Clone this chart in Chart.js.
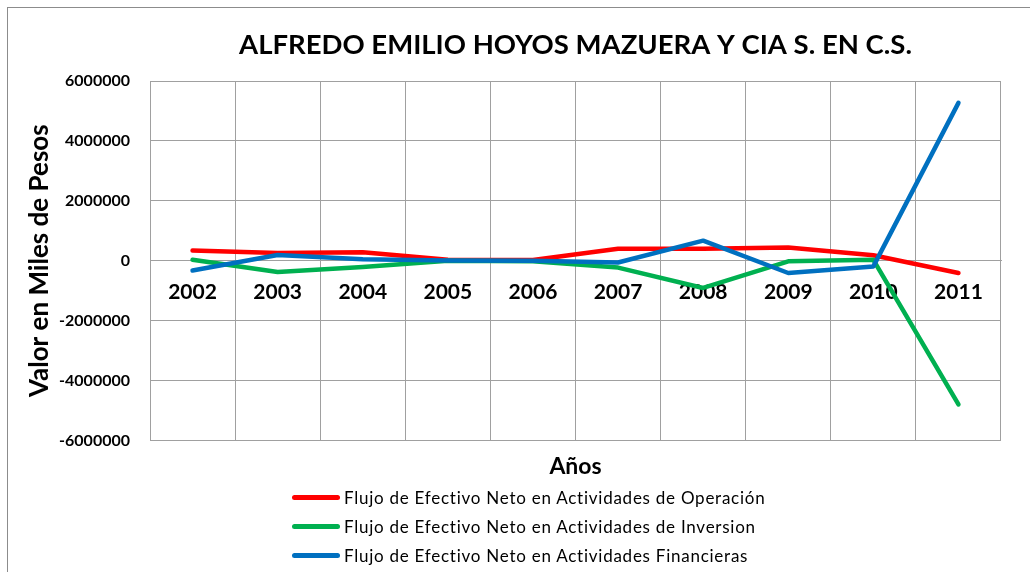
<!DOCTYPE html>
<html>
<head>
<meta charset="utf-8">
<script src="https://cdn.jsdelivr.net/npm/chart.js@4/dist/chart.umd.min.js"></script>
<style>
  html, body { margin: 0; padding: 0; background: #fff; overflow: hidden; }
  #wrap { position: relative; width: 1030px; height: 572px; }
  #frame { position: absolute; left: 7px; top: 7px; width: 1100px; height: 700px;
    border-left: 1px solid #8c8c8c; border-top: 1px solid #8c8c8c; }
  #legend { position: absolute; left: 292px; top: 483px; font-family: Lato, sans-serif;
    font-size: 17px; letter-spacing: 0.75px; color: #000; }
  .row { height: 29px; display: flex; align-items: center; }
  .swatch { width: 48px; height: 5px; border-radius: 3px; margin-right: 4px; }
</style>
</head>
<body>
<div id="wrap">
  <div id="frame"></div>
  <canvas id="chart" width="1030" height="572"></canvas>
  <div id="legend"></div>
</div>
<script>
//------------------Data------------------
const years = ['2002', '2003', '2004', '2005', '2006', '2007', '2008', '2009', '2010', '2011'];
const operacion = [340000, 260000, 280000, 30000, 20000, 400000, 400000, 440000, 180000, -410000];
const inversion = [30000, -380000, -210000, 0, -20000, -230000, -910000, -20000, 30000, -4800000];
const financieras = [-330000, 190000, 50000, 10000, 0, -60000, 670000, -410000, -190000, 5270000];
const seriesNames = [
  'Flujo de Efectivo Neto en Actividades de Operación',
  'Flujo de Efectivo Neto en Actividades de Inversion',
  'Flujo de Efectivo Neto en Actividades Financieras',
];
const seriesColors = ['#ff0000', '#00b050', '#0070c0'];

const gridColor = '#a0a0a0';
const font = 'Lato, sans-serif';

const datasets = [operacion, inversion, financieras].map((values, i) => ({
  label: seriesNames[i],
  data: values,
  borderColor: seriesColors[i],
  backgroundColor: seriesColors[i],
  borderWidth: 4.5,
  borderCapStyle: 'round',
  borderJoinStyle: 'round',
  pointRadius: 0,
  tension: 0,
  order: 2 - i,
}));

//------------------Chart------------------
const chart = new Chart(document.getElementById('chart'), {
  type: 'line',
  data: { labels: years, datasets: datasets },
  options: {
    responsive: false,
    animation: false,
    layout: { padding: { left: 0, right: 29, top: 0, bottom: 92 } },
    plugins: {
      legend: { display: false },
      tooltip: { enabled: false },
      title: {
        display: true,
        text: 'ALFREDO EMILIO HOYOS MAZUERA Y CIA S. EN C.S.',
        fullSize: false,
        color: '#000',
        font: { family: font, size: 27.5, weight: 'bold' },
        padding: { top: 28.5, bottom: 19.5 },
      },
      subtitle: {
        display: true,
        text: 'Años',
        position: 'bottom',
        fullSize: false,
        color: '#000',
        font: { family: font, size: 23, weight: 'bold' },
        padding: { top: 12, bottom: 0 },
      },
    },
    scales: {
      x: {
        type: 'category',
        position: { y: 0 },
        offset: true,
        grid: { offset: true, color: gridColor, drawTicks: false },
        border: { color: gridColor },
        ticks: {
          color: '#000',
          padding: 19,
          font: { family: font, size: 21, weight: 'bold' },
        },
      },
      y: {
        min: -6000000,
        max: 6000000,
        afterFit: (scale) => { scale.width = 150; },
        grid: { color: gridColor, drawTicks: false },
        border: { color: gridColor },
        ticks: {
          stepSize: 2000000,
          color: '#000',
          padding: 20,
          font: { family: font, size: 16, weight: 'bold' },
          callback: (value) => String(value),
        },
        title: {
          display: true,
          text: 'Valor en Miles de Pesos',
          color: '#000',
          font: { family: font, size: 26, weight: 'bold' },
          padding: { top: 24, bottom: 0 },
        },
      },
    },
  },
});

//------------------Legend (one series per row)------------------
const legend = document.getElementById('legend');
chart.data.datasets.forEach((ds) => {
  const row = document.createElement('div');
  row.className = 'row';
  const swatch = document.createElement('div');
  swatch.className = 'swatch';
  swatch.style.background = ds.borderColor;
  const label = document.createElement('span');
  label.textContent = ds.label;
  row.appendChild(swatch);
  row.appendChild(label);
  legend.appendChild(row);
});
</script>
</body>
</html>
